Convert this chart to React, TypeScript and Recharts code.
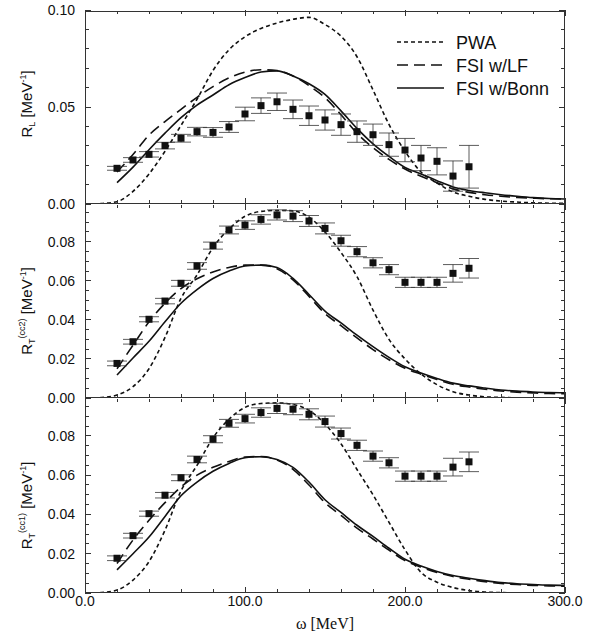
import React from 'react';
import { ComposedChart, Line, Scatter, XAxis, YAxis, ErrorBar, Legend } from 'recharts';

// ---------- data ----------
const curveOmega = [5, 10, 20, 30, 40, 50, 60, 70, 80, 90, 100, 110, 120, 130, 140, 150, 160, 170, 180, 190, 200, 210, 220, 230, 240, 250, 260, 270, 280, 290, 300];

const pwaL = [0, 0.0002, 0.0012, 0.0065, 0.0155, 0.0272, 0.0405, 0.054, 0.0688, 0.0795, 0.0862, 0.0905, 0.0933, 0.0952, 0.0962, 0.0925, 0.0865, 0.0759, 0.0588, 0.041, 0.0272, 0.0165, 0.0108, 0.0062, 0.004, 0.0024, 0.0015, 0.001, 0.0006, 0.0004, 0.0003];
const lfL = [null, null, 0.0165, 0.0255, 0.0355, 0.0425, 0.0488, 0.055, 0.0605, 0.065, 0.068, 0.0692, 0.0688, 0.066, 0.061, 0.0548, 0.046, 0.0364, 0.029, 0.023, 0.018, 0.0143, 0.011, 0.0078, 0.006, 0.0048, 0.004, 0.0034, 0.003, 0.0027, 0.0026];
const bonnL = [null, null, 0.011, 0.019, 0.028, 0.0365, 0.0445, 0.051, 0.0562, 0.0615, 0.0652, 0.068, 0.0686, 0.066, 0.062, 0.0565, 0.048, 0.039, 0.031, 0.0245, 0.0188, 0.0155, 0.012, 0.0088, 0.007, 0.0058, 0.0048, 0.004, 0.0033, 0.0028, 0.0026];

const pwaT2 = [0, 0.0002, 0.0015, 0.0058, 0.015, 0.031, 0.051, 0.063, 0.077, 0.0865, 0.093, 0.0955, 0.096, 0.0958, 0.0925, 0.085, 0.0745, 0.0621, 0.045, 0.03, 0.02, 0.0123, 0.0068, 0.0032, 0.0015, 0.0006, 0.0003, 0.0001, 0, 0, 0];
const lfT2 = [null, null, 0.015, 0.027, 0.039, 0.0485, 0.056, 0.061, 0.0645, 0.0668, 0.068, 0.068, 0.0662, 0.0605, 0.052, 0.0432, 0.037, 0.0308, 0.0248, 0.0196, 0.0152, 0.0122, 0.0095, 0.007, 0.0056, 0.0045, 0.0036, 0.003, 0.0026, 0.0023, 0.0022];
const bonnT2 = [null, null, 0.0118, 0.0205, 0.029, 0.039, 0.0485, 0.0555, 0.0612, 0.065, 0.0676, 0.068, 0.0668, 0.0612, 0.053, 0.0445, 0.0384, 0.0322, 0.0263, 0.0208, 0.016, 0.0128, 0.01, 0.0076, 0.0062, 0.0051, 0.0041, 0.0035, 0.0031, 0.0028, 0.0027];

const pwaT1 = [0, 0.0002, 0.0015, 0.0066, 0.016, 0.032, 0.052, 0.065, 0.079, 0.0885, 0.0945, 0.0965, 0.0968, 0.096, 0.093, 0.086, 0.076, 0.0629, 0.05, 0.036, 0.022, 0.0105, 0.0055, 0.0028, 0.0012, 0.0005, 0.0002, 0.0001, 0, 0, 0];
const lfT1 = [null, null, 0.015, 0.027, 0.037, 0.046, 0.054, 0.06, 0.064, 0.067, 0.0692, 0.0695, 0.0678, 0.063, 0.055, 0.046, 0.0395, 0.033, 0.0275, 0.0218, 0.0165, 0.0132, 0.0105, 0.0084, 0.007, 0.0058, 0.0049, 0.0043, 0.0039, 0.0036, 0.0035];
const bonnT1 = [null, null, 0.0118, 0.02, 0.0285, 0.039, 0.0495, 0.0565, 0.062, 0.066, 0.0689, 0.0694, 0.068, 0.064, 0.0565, 0.0475, 0.041, 0.0345, 0.0288, 0.0228, 0.0172, 0.0137, 0.011, 0.0089, 0.0075, 0.0063, 0.0053, 0.0047, 0.0043, 0.004, 0.0039];

const dataOmega = [20, 30, 40, 50, 60, 70, 80, 90, 100, 110, 120, 130, 140, 150, 160, 170, 180, 190, 200, 210, 220, 230, 240];
const expL = [0.0184, 0.0227, 0.0256, 0.0301, 0.0339, 0.0373, 0.0369, 0.0397, 0.0464, 0.0507, 0.0527, 0.0488, 0.0455, 0.0433, 0.0409, 0.0373, 0.0357, 0.0306, 0.0278, 0.0237, 0.022, 0.0144, 0.0192];
const errL = [0.001, 0.0012, 0.0014, 0.0017, 0.002, 0.0022, 0.0025, 0.0028, 0.0035, 0.004, 0.0045, 0.0048, 0.005, 0.0052, 0.0055, 0.0055, 0.0055, 0.006, 0.006, 0.0065, 0.007, 0.0078, 0.011];
const expT2 = [0.0177, 0.0288, 0.0403, 0.0496, 0.0587, 0.0676, 0.078, 0.086, 0.0885, 0.0914, 0.0937, 0.0931, 0.0906, 0.0868, 0.0805, 0.0749, 0.0692, 0.0657, 0.0592, 0.0592, 0.0592, 0.0638, 0.0664];
const errT2 = [0.0012, 0.0012, 0.0013, 0.0014, 0.0015, 0.0017, 0.0018, 0.002, 0.0022, 0.0024, 0.0026, 0.0028, 0.0028, 0.0028, 0.0028, 0.0026, 0.0026, 0.0026, 0.0026, 0.0026, 0.0026, 0.0045, 0.005];
const expT1 = [0.0177, 0.0292, 0.0404, 0.0498, 0.0587, 0.068, 0.0783, 0.0864, 0.0888, 0.0919, 0.094, 0.0936, 0.091, 0.0873, 0.0812, 0.0752, 0.0697, 0.0663, 0.0595, 0.0595, 0.0595, 0.0641, 0.0668];
const errT1 = [0.0012, 0.0012, 0.0013, 0.0014, 0.0015, 0.0017, 0.0018, 0.002, 0.0022, 0.0024, 0.0026, 0.0028, 0.0028, 0.0028, 0.0028, 0.0026, 0.0026, 0.0026, 0.0026, 0.0026, 0.0026, 0.0045, 0.005];

const xTicksMajor = [0, 100, 200, 300];
const xTicksMinor = [0, 20, 40, 60, 80, 100, 120, 140, 160, 180, 200, 220, 240, 260, 280, 300];
const yTicksL = [0, 0.05, 0.1];
const yMinorL = [0, 0.01, 0.02, 0.03, 0.04, 0.05, 0.06, 0.07, 0.08, 0.09, 0.1];
const yTicksT = [0, 0.02, 0.04, 0.06, 0.08];
const yMinorT = [0, 0.005, 0.01, 0.015, 0.02, 0.025, 0.03, 0.035, 0.04, 0.045, 0.05, 0.055, 0.06, 0.065, 0.07, 0.075, 0.08, 0.085, 0.09, 0.095];

const seriesNames = ['PWA', 'FSI w/LF', 'FSI w/Bonn'];
const dashes = ['4 3', '11 6', undefined];

// ---------- helpers ----------
const INK = '#111';
const FRAME = '#333';
const SANS = '"Liberation Sans", Arial, sans-serif';
const blank = () => '';

const buildCurves = (pwa: any[], lf: any[], bonn: any[]) =>
  curveOmega.map((w, i) => ({ w, pwa: pwa[i], lf: lf[i], bonn: bonn[i] }));
const buildPoints = (v: number[], e: number[]) => dataOmega.map((w, i) => ({ w, v: v[i], e: e[i] }));

const Square = (p: any) => {
  if (p.cx == null || p.cy == null) return null;
  return <rect x={p.cx - 3.5} y={p.cy - 3.5} width={7} height={7} fill={INK} />;
};

const makeYLabel = (sub: string, sup: string | null, shift: number) => (p: any) => {
  const vb = p.viewBox || {};
  const cx = 32;
  const cy = vb.y + vb.height / 2 + shift;
  return (
    <text x={cx} y={cy} transform={`rotate(-90 ${cx} ${cy})`} textAnchor="middle" fontFamily={SANS} fontSize={15} fill={INK}>
      <tspan>R</tspan>
      <tspan fontSize={9} dy={3}>{sub}</tspan>
      {sup ? <tspan fontSize={9} dy={-10}>{sup}</tspan> : null}
      <tspan fontSize={15} dy={sup ? 7 : -3}>{' [MeV'}</tspan>
      <tspan fontSize={9} dy={-6}>{'-1'}</tspan>
      <tspan fontSize={15} dy={6}>{']'}</tspan>
    </text>
  );
};

const XLabel = (p: any) => {
  const vb = p.viewBox || {};
  return (
    <text x={vb.x + vb.width / 2} y={vb.y + 36} textAnchor="middle" fontFamily='"Liberation Serif", "Times New Roman", serif' fontSize={16} fill={INK}>
      ω [MeV]
    </text>
  );
};

const LegendBox = () => (
  <svg width={200} height={75} style={{ display: 'block' }}>
    {seriesNames.map((n, i) => (
      <g key={n}>
        <line x1={7} x2={54} y1={12 + i * 23} y2={12 + i * 23} stroke={INK} strokeWidth={1.6} strokeDasharray={dashes[i]} />
        <text x={66} y={18.5 + i * 23} fontFamily={SANS} fontSize={18} fill={INK}>{n}</text>
      </g>
    ))}
  </svg>
);

type PanelProps = {
  top: number;
  height: number;
  mb: number;
  curves: any[];
  points: any[];
  yDomain: [number, number];
  yMajor: number[];
  yMinor: number[];
  yLabel: (p: any) => any;
  bottom?: boolean;
  legend?: boolean;
  drawTop?: boolean;
};

const lineStyle = { stroke: FRAME, strokeWidth: 1, shapeRendering: 'crispEdges' };

const Panel = ({ top, height, mb, curves, points, yDomain, yMajor, yMinor, yLabel, bottom, legend, drawTop }: PanelProps) => (
  <div style={{ position: 'absolute', left: 0, top }}>
    <ComposedChart width={601} height={height} data={curves} margin={{ top: 10, right: 36, bottom: mb, left: 0 }}>
      <XAxis
        xAxisId="main"
        type="number"
        dataKey="w"
        domain={[0, 300]}
        allowDataOverflow
        ticks={xTicksMajor}
        interval={0}
        hide={!bottom}
        height={44}
        tickLine={false}
        axisLine={false}
        tickSize={0}
        tickMargin={3}
        tick={{ fontFamily: SANS, fontSize: 14, fill: INK }}
        tickFormatter={(v: number) => v.toFixed(1)}
        label={bottom ? XLabel : undefined}
      />
      <XAxis xAxisId="bMin" type="number" dataKey="w" orientation="bottom" mirror height={1} domain={[0, 300]} allowDataOverflow ticks={xTicksMinor} interval={0} tickFormatter={blank} tickSize={3} tickLine={lineStyle} axisLine={lineStyle} />
      <XAxis xAxisId="bMaj" type="number" dataKey="w" orientation="bottom" mirror height={1} domain={[0, 300]} allowDataOverflow ticks={xTicksMajor} interval={0} tickFormatter={blank} tickSize={6} tickLine={lineStyle} axisLine={false} />
      <XAxis xAxisId="tMin" type="number" dataKey="w" orientation="top" mirror height={1} domain={[0, 300]} allowDataOverflow ticks={xTicksMinor} interval={0} tickFormatter={blank} tickSize={3} tickLine={lineStyle} axisLine={drawTop ? lineStyle : false} />
      <XAxis xAxisId="tMaj" type="number" dataKey="w" orientation="top" mirror height={1} domain={[0, 300]} allowDataOverflow ticks={xTicksMajor} interval={0} tickFormatter={blank} tickSize={6} tickLine={lineStyle} axisLine={false} />
      <YAxis
        yAxisId="main"
        type="number"
        domain={yDomain}
        allowDataOverflow
        ticks={yMajor}
        interval={0}
        width={85}
        tickLine={false}
        axisLine={lineStyle}
        tickSize={0}
        tickMargin={10}
        tick={{ fontFamily: SANS, fontSize: 14, fill: INK }}
        tickFormatter={(v: number) => v.toFixed(2)}
        label={yLabel}
      />
      <YAxis yAxisId="lMin" type="number" orientation="left" mirror width={1} domain={yDomain} allowDataOverflow ticks={yMinor} interval={0} tickFormatter={blank} tickSize={3} tickLine={lineStyle} axisLine={false} />
      <YAxis yAxisId="lMaj" type="number" orientation="left" mirror width={1} domain={yDomain} allowDataOverflow ticks={yMajor} interval={0} tickFormatter={blank} tickSize={6} tickLine={lineStyle} axisLine={false} />
      <YAxis yAxisId="rMin" type="number" orientation="right" mirror width={1} domain={yDomain} allowDataOverflow ticks={yMinor} interval={0} tickFormatter={blank} tickSize={3} tickLine={lineStyle} axisLine={lineStyle} />
      <YAxis yAxisId="rMaj" type="number" orientation="right" mirror width={1} domain={yDomain} allowDataOverflow ticks={yMajor} interval={0} tickFormatter={blank} tickSize={6} tickLine={lineStyle} axisLine={false} />

      <Line xAxisId="main" yAxisId="main" dataKey="pwa" name={seriesNames[0]} type="monotone" stroke={INK} strokeWidth={1.6} strokeDasharray={dashes[0]} dot={false} isAnimationActive={false} />
      <Line xAxisId="main" yAxisId="main" dataKey="lf" name={seriesNames[1]} type="monotone" stroke={INK} strokeWidth={1.6} strokeDasharray={dashes[1]} dot={false} isAnimationActive={false} />
      <Line xAxisId="main" yAxisId="main" dataKey="bonn" name={seriesNames[2]} type="monotone" stroke={INK} strokeWidth={1.6} dot={false} isAnimationActive={false} />
      <Scatter xAxisId="main" yAxisId="main" data={points} dataKey="v" shape={Square} isAnimationActive={false}>
        <ErrorBar dataKey="e" direction="y" width={10} stroke="#333" strokeWidth={0.8} />
      </Scatter>
      {legend ? (
        <Legend
          layout="vertical"
          align="center"
          verticalAlign="middle"
          content={() => <LegendBox />}
          wrapperStyle={{ left: 390, top: 30, width: 200, height: 75 }}
        />
      ) : null}
    </ComposedChart>
  </div>
);

export default function App() {
  return (
    <div style={{ position: 'absolute', left: 0, top: 0, width: 601, height: 637, background: '#fff' }}>
      <Panel
        top={0}
        height={214}
        mb={10}
        curves={buildCurves(pwaL, lfL, bonnL)}
        points={buildPoints(expL, errL)}
        yDomain={[0, 0.1]}
        yMajor={yTicksL}
        yMinor={yMinorL}
        yLabel={makeYLabel('L', null, -3)}
        legend
        drawTop
      />
      <Panel
        top={194}
        height={214}
        mb={10}
        curves={buildCurves(pwaT2, lfT2, bonnT2)}
        points={buildPoints(expT2, errT2)}
        yDomain={[0, 0.0993]}
        yMajor={yTicksT}
        yMinor={yMinorT}
        yLabel={makeYLabel('T', '(cc2)', 10)}
      />
      <Panel
        top={388}
        height={249}
        mb={0}
        curves={buildCurves(pwaT1, lfT1, bonnT1)}
        points={buildPoints(expT1, errT1)}
        yDomain={[0, 0.0993]}
        yMajor={yTicksT}
        yMinor={yMinorT}
        yLabel={makeYLabel('T', '(cc1)', 10)}
        bottom
      />
    </div>
  );
}
